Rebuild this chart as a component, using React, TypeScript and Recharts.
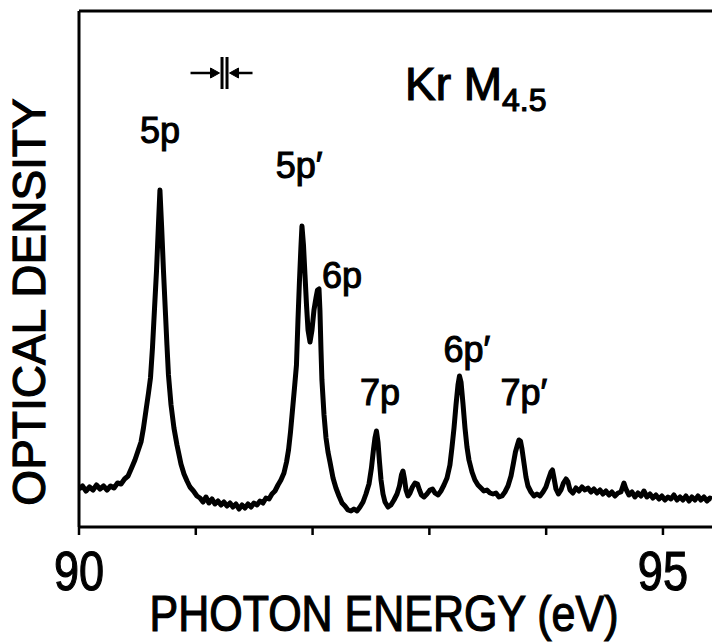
import React from "react";
import {
  LineChart,
  Line,
  XAxis,
  YAxis,
  ReferenceLine,
  ReferenceDot,
  Label,
} from "recharts";

// photon energy (eV)
const energy = [
  90.0, 90.03, 90.06, 90.09, 90.12, 90.15, 90.18, 90.21, 90.24, 90.27, 90.3, 90.33, 90.36, 90.39, 90.42,
  90.45, 90.479, 90.505, 90.531, 90.552, 90.574, 90.595, 90.612, 90.629, 90.646, 90.664, 90.679, 90.693,
  90.708, 90.723, 90.741, 90.753, 90.766, 90.788, 90.813, 90.839, 90.873, 90.899, 90.925, 90.95, 90.98,
  91.01, 91.036,
  91.062, 91.087, 91.113, 91.139, 91.164, 91.19, 91.216, 91.241, 91.267, 91.293, 91.318, 91.344, 91.37,
  91.396, 91.421, 91.447, 91.473, 91.498, 91.524, 91.55, 91.575, 91.601, 91.627, 91.652, 91.678, 91.704,
  91.729, 91.755, 91.777,
  91.794, 91.811, 91.828, 91.845, 91.862, 91.875, 91.888, 91.901, 91.909, 91.922, 91.935, 91.948, 91.961,
  91.978, 91.995, 92.012, 92.029, 92.042, 92.055, 92.063, 92.072, 92.08, 92.098, 92.115, 92.132, 92.149,
  92.175, 92.2, 92.226, 92.252, 92.277, 92.303, 92.329, 92.354, 92.38, 92.406,
  92.432, 92.457, 92.483, 92.504, 92.521, 92.534, 92.547, 92.56, 92.573, 92.586, 92.603, 92.62, 92.646,
  92.671, 92.697, 92.723, 92.744, 92.761, 92.774, 92.787, 92.8, 92.817, 92.834, 92.855, 92.877, 92.898,
  92.915, 92.932, 92.954, 92.979, 93.005, 93.027, 93.048, 93.074, 93.099, 93.125, 93.151, 93.176, 93.193,
  93.211, 93.228, 93.245, 93.258, 93.271, 93.288, 93.305, 93.322, 93.339, 93.365, 93.39, 93.416, 93.442,
  93.467, 93.493, 93.519,
  93.545, 93.57, 93.596, 93.622, 93.647, 93.673, 93.699, 93.72, 93.737, 93.754, 93.767, 93.78, 93.793,
  93.81, 93.827, 93.844, 93.87, 93.896, 93.921, 93.947, 93.973, 93.998, 94.02, 94.041, 94.054, 94.067,
  94.084, 94.105, 94.127, 94.148, 94.17, 94.187, 94.204, 94.229, 94.255, 94.281, 94.307, 94.332, 94.358,
  94.384, 94.409, 94.435, 94.461, 94.486, 94.512, 94.538, 94.563, 94.589, 94.615, 94.64, 94.666, 94.683,
  94.709, 94.735, 94.76, 94.786, 94.812, 94.837, 94.863, 94.889, 94.914, 94.94, 94.966, 94.991, 95.017,
  95.043, 95.068, 95.094, 95.12, 95.146, 95.171, 95.197, 95.223, 95.248, 95.274, 95.3, 95.325, 95.351,
  95.377, 95.402, 95.42,
];

// optical density (arbitrary units)
const density = [
  0.38, 0.41, 0.36, 0.4, 0.37, 0.42, 0.38, 0.41, 0.37, 0.41, 0.39, 0.44, 0.43, 0.48, 0.51,
  0.59, 0.67, 0.76, 0.85, 0.99, 1.17, 1.34, 1.49, 1.79, 2.17, 2.57, 2.99, 3.37,
  2.99, 2.57, 2.12, 1.82, 1.52, 1.22, 0.99, 0.82, 0.63, 0.53, 0.46, 0.4, 0.36,
  0.31, 0.29,
  0.25, 0.3, 0.24, 0.28, 0.23, 0.26, 0.22, 0.25, 0.21, 0.24, 0.2, 0.23, 0.18,
  0.22, 0.19, 0.23, 0.2, 0.24, 0.22, 0.26, 0.24, 0.29, 0.28, 0.33, 0.36, 0.42,
  0.47, 0.54, 0.65,
  0.77, 0.95, 1.17, 1.39, 1.62, 2.07, 2.47, 2.82, 3.01, 2.82, 2.52, 2.22, 1.97,
  1.85, 1.97, 2.17, 2.29, 2.37, 2.38, 2.17, 1.77, 1.47, 1.12, 0.89, 0.75, 0.65,
  0.49, 0.39, 0.31, 0.24, 0.21, 0.17, 0.16, 0.18, 0.16, 0.2,
  0.25, 0.33, 0.43, 0.59, 0.77, 0.89, 0.96, 0.85, 0.65, 0.47, 0.33, 0.25, 0.2,
  0.22, 0.27, 0.33, 0.41, 0.52, 0.56, 0.48, 0.37, 0.31, 0.34, 0.4, 0.44, 0.43,
  0.37, 0.32, 0.3, 0.33, 0.37, 0.38, 0.34, 0.32, 0.36, 0.42, 0.49, 0.62, 0.79,
  0.99, 1.22, 1.42, 1.51, 1.45, 1.23, 0.99, 0.8, 0.67, 0.55, 0.47, 0.42, 0.39,
  0.36, 0.37, 0.34,
  0.33, 0.34, 0.3, 0.31, 0.35, 0.41, 0.51, 0.64, 0.75, 0.82, 0.87, 0.86, 0.78,
  0.64, 0.5, 0.41, 0.35, 0.31, 0.33, 0.31, 0.35, 0.4, 0.48, 0.55, 0.57, 0.49,
  0.38, 0.33, 0.37, 0.44, 0.48, 0.45, 0.37, 0.34, 0.39, 0.36, 0.4, 0.37, 0.39,
  0.35, 0.38, 0.34, 0.37, 0.33, 0.36, 0.32, 0.35, 0.31, 0.34, 0.35, 0.44, 0.38,
  0.32, 0.35, 0.3, 0.34, 0.31, 0.36, 0.3, 0.33, 0.29, 0.32, 0.28, 0.31, 0.27,
  0.3, 0.28, 0.32, 0.27, 0.3, 0.27, 0.31, 0.26, 0.3, 0.27, 0.31, 0.27, 0.3,
  0.26, 0.29, 0.28,
];

const peakNames = ["5p", "5p\u2032", "6p", "7p", "6p\u2032", "7p\u2032"];
const peakLabelEnergy = [90.693, 91.884, 92.252, 92.577, 93.322, 93.81];
const peakLabelHeight = [3.84, 3.49, 2.39, 1.22, 1.65, 1.22];

const xTicks = [90, 91, 92, 93, 94, 95];
const xLabeled = [90, 95];

const FONT = "'Liberation Sans', Arial, sans-serif";

const data = energy.map((e, i) => ({ e, od: density[i] }));

// condensed-looking tick digits, like the original typeset figure
const EnergyTick = ({ x, y, payload }: any) => {
  if (!xLabeled.includes(payload.value)) return <g />;
  return (
    <text
      transform={`translate(${x}, ${y + 45}) scale(0.82, 1)`}
      textAnchor="middle"
      fontFamily={FONT}
      fontSize={55}
      fill="#000"
      stroke="#000"
      strokeWidth={1.2}
    >
      {payload.value}
    </text>
  );
};

const PeakLabel = ({ cx, cy, text }: any) => (
  <text
    x={cx}
    y={cy}
    textAnchor="middle"
    fontFamily={FONT}
    fontSize={36}
    fill="#000"
    stroke="#000"
    strokeWidth={1.1}
  >
    {text}
  </text>
);

const Title = ({ cx, cy }: any) => (
  <text x={cx} y={cy} fontFamily={FONT} fill="#000" stroke="#000" strokeWidth={1.2}>
    <tspan fontSize={46}>Kr M</tspan>
    <tspan fontSize={32} dy={11}>
      4.5
    </tspan>
  </text>
);

// resolution marker: two arrows pointing at a pair of bars
const Resolution = ({ cx, cy }: any) => (
  <g stroke="#000" fill="#000">
    <line x1={cx - 34} y1={cy} x2={cx - 10} y2={cy} strokeWidth={2.5} />
    <polygon points={`${cx - 5},${cy} ${cx - 14},${cy - 5} ${cx - 14},${cy + 5}`} strokeWidth={1} />
    <line x1={cx - 2.5} y1={cy - 16} x2={cx - 2.5} y2={cy + 16} strokeWidth={3} />
    <line x1={cx + 2.5} y1={cy - 16} x2={cx + 2.5} y2={cy + 16} strokeWidth={3} />
    <polygon points={`${cx + 5},${cy} ${cx + 14},${cy - 5} ${cx + 14},${cy + 5}`} strokeWidth={1} />
    <line x1={cx + 10} y1={cy} x2={cx + 28} y2={cy} strokeWidth={2.5} />
  </g>
);

export default function App() {
  return (
    <div style={{ position: "absolute", left: 0, top: 0, background: "#fff" }}>
      <LineChart
        width={712}
        height={642}
        data={data}
        margin={{ top: 11, right: 0, bottom: 0, left: 0 }}
      >
        <XAxis
          dataKey="e"
          type="number"
          domain={[90, 95.42]}
          allowDataOverflow
          ticks={xTicks}
          height={115}
          tickSize={8}
          tickMargin={10}
          axisLine={{ stroke: "#000", strokeWidth: 3 }}
          tickLine={{ stroke: "#000", strokeWidth: 2.5 }}
          tick={<EnergyTick />}
        >
          <Label
            content={({ viewBox }: any) => (
              <text
                transform={`translate(${viewBox.x + 305}, ${viewBox.y + 104}) scale(0.86, 1)`}
                textAnchor="middle"
                fontFamily={FONT}
                fontSize={50}
                fill="#000"
                stroke="#000"
                strokeWidth={1.2}
              >
                PHOTON ENERGY (eV)
              </text>
            )}
          />
        </XAxis>
        <YAxis
          type="number"
          domain={[0, 5.16]}
          allowDataOverflow
          width={79}
          tick={false}
          tickLine={false}
          axisLine={{ stroke: "#000", strokeWidth: 3 }}
        >
          <Label
            content={({ viewBox }: any) => {
              const x = 45;
              const y = viewBox.y + 291;
              return (
                <text
                  x={x}
                  y={y}
                  transform={`rotate(-90, ${x}, ${y})`}
                  textAnchor="middle"
                  fontFamily={FONT}
                  fontSize={46}
                  fill="#000"
                  stroke="#000"
                  strokeWidth={1.2}
                >
                  OPTICAL DENSITY
                </text>
              );
            }}
          />
        </YAxis>
        <ReferenceLine y={5.16} stroke="#000" strokeWidth={3} />
        <Line
          type="linear"
          dataKey="od"
          stroke="#000"
          strokeWidth={5}
          strokeLinejoin="round"
          dot={false}
          isAnimationActive={false}
        />
        {peakNames.map((name, i) => (
          <ReferenceDot
            key={name}
            x={peakLabelEnergy[i]}
            y={peakLabelHeight[i]}
            r={0}
            shape={(p: any) => <PeakLabel cx={p.cx} cy={p.cy} text={name} />}
          />
        ))}
        <ReferenceDot x={92.791} y={4.27} r={0} shape={(p: any) => <Title cx={p.cx} cy={p.cy} />} />
        <ReferenceDot x={91.246} y={4.54} r={0} shape={(p: any) => <Resolution cx={p.cx} cy={p.cy} />} />
      </LineChart>
    </div>
  );
}
